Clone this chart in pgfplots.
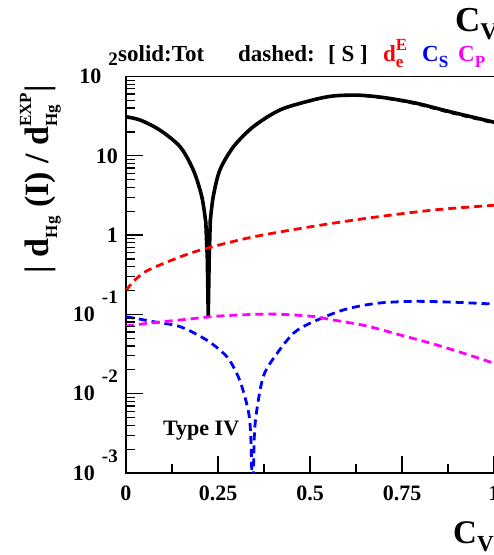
\documentclass[border=0pt]{standalone}
\usepackage{fontspec}
\setmainfont{Liberation Serif}
\usepackage{pgfplots}
\pgfplotsset{compat=1.18}
\definecolor{rred}{RGB}{255,0,0}
\definecolor{rblue}{RGB}{0,0,255}
\definecolor{rmag}{RGB}{255,0,255}
\newcommand\fs[1]{\fontsize{#1bp}{#1bp}\selectfont}
\newcommand\pw[1]{10\hspace{7bp}\smash{\raisebox{18bp}{\fs{19}#1}}}
\newcommand\mysub[2]{\raisebox{-#1bp}{\fs{17}#2}}
\newcommand\mysup[2]{\raisebox{#1bp}{\fs{17}#2}}
\begin{document}
\begin{tikzpicture}
\begin{axis}[
  name=ax,
  scale only axis,
  width=404.8bp, height=396.5bp,
  xmin=0, xmax=1.1,
  ymode=log, ymin=1e-3, ymax=100,
  xtick={0,0.25,0.5,0.75,1},
  xticklabels={0,0.25,0.5,0.75,1},
  minor xtick={0.125,0.375,0.625,0.875},
  ytick={1e-3,1e-2,1e-1,1,10,100},
  yticklabels={{\pw{-3}},{\pw{-2}},{\pw{-1}},{1\hspace{18bp}},{10\hspace{18bp}},{\pw{2}}},
  tick pos=left,
  tick align=inside,
  major tick length=17bp, minor tick length=9bp,
  major tick style={draw=black, line width=1.2bp},
  minor tick style={draw=black, line width=1.2bp},
  axis line style={line width=1.5bp},
  /pgf/number format/assume math mode=true,
  xticklabel style={font=\fs{22}\bfseries, anchor=north, inner sep=0pt, yshift=-13bp},
  yticklabel style={font=\fs{22}\bfseries, anchor=east, inner sep=0pt, xshift=-8bp},
]
% total (solid), left branch, dip, right branch
\addplot[black, line width=3.6bp, line cap=round, smooth, tension=0.5] coordinates {
(0,31) (0.038,28.3) (0.092,21.1) (0.147,13) (0.183,6.6) (0.206,3.05) (0.217,1.42)};
\addplot[black, line width=3.6bp, line cap=round, line join=round] coordinates {
(0.217,1.42) (0.221,0.5) (0.2235,0.095) (0.226,0.5) (0.229,1.5)};
\addplot[black, line width=3.6bp, line cap=round, smooth, tension=0.5] coordinates {
(0.229,1.5) (0.237,3.05) (0.255,6.6)
(0.292,13) (0.346,23.3) (0.418,37.8) (0.5,49.5) (0.563,56.8) (0.636,58)
(0.708,53.6) (0.79,45.9) (0.88,36) (1.0,26.5) (1.1,20)};
% [S] dashed black
\addplot[black, line width=2bp, dash pattern=on 6bp off 5bp, smooth] coordinates {
(0.65,56.5) (0.708,52.5) (0.79,44.5) (0.88,34.8) (1.0,25.6) (1.1,19.3)};
% d_e^E
\addplot[rred, line width=2.8bp, dash pattern=on 8bp off 5bp, smooth, tension=0.5] coordinates {
(0,0.20) (0.02,0.26) (0.05,0.34) (0.092,0.42) (0.165,0.57) (0.228,0.70)
(0.346,0.95) (0.5,1.27) (0.654,1.63) (0.835,2.07) (1.0,2.38) (1.1,2.6)};
% C_S
\addplot[rblue, line width=2.8bp, dash pattern=on 8bp off 5bp, smooth, tension=0.5] coordinates {
(0,0.0936) (0.074,0.081) (0.147,0.070) (0.219,0.0475) (0.274,0.0293)
(0.305,0.0164) (0.323,0.00916) (0.336,0.0047) (0.341,0.0015) (0.3435,0.0002)
(0.3445,0.0002) (0.347,0.0015) (0.352,0.0047) (0.373,0.0164) (0.41,0.032) (0.455,0.0578)
(0.5,0.0773) (0.59,0.1136) (0.681,0.138) (0.781,0.146) (0.88,0.143)
(1.0,0.135) (1.1,0.128)};
% C_P
\addplot[rmag, line width=2.8bp, dash pattern=on 8bp off 5bp, smooth, tension=0.5] coordinates {
(0,0.0715) (0.074,0.0786) (0.165,0.0867) (0.255,0.0955) (0.391,0.101)
(0.5,0.095) (0.563,0.085) (0.654,0.0715) (0.745,0.055) (0.835,0.0424)
(0.926,0.0314) (1.0,0.0242) (1.1,0.017)};
\end{axis}
\begin{scope}[shift={(ax.south west)}, x=1bp, y=1bp, every node/.style={inner sep=0pt, font=\bfseries}]
% axis tick marks, inside, on the left and bottom axes
\foreach \v in {0.25,0.5,0.75,1} \draw[black, line width=1.2bp] ({368*\v},0) -- ++(0,17);
\foreach \v in {0.125,0.375,0.625,0.875} \draw[black, line width=1.2bp] ({368*\v},0) -- ++(0,9);
\foreach \d in {1,2,3,4} \draw[black, line width=1.2bp] (0,{79.3*\d}) -- ++(17,0);
\foreach \d in {0,1,2,3,4} {\foreach \m in {2,3,4,5,6,7,8,9} {\draw[black, line width=1.2bp] (0,{79.3*(\d+log10(\m))}) -- ++(9,0);}}
\node[anchor=base west, font=\fs{23}\bfseries] at (-8,411) {solid:Tot};
\node[anchor=base west, font=\fs{23}\bfseries] at (112,411) {dashed:};
\node[anchor=base west, font=\fs{23}\bfseries] at (202,411) {[ S ]};
\node[anchor=base west, font=\fs{23}\bfseries, text=rred] at (257,411) {d\rlap{\mysup{11}{E}}\mysub{6}{e}};
\node[anchor=base west, font=\fs{23}\bfseries, text=rblue] at (296,411) {C\mysub{6}{S}};
\node[anchor=base west, font=\fs{23}\bfseries, text=rmag] at (332,411) {C\mysub{6}{P}};
\node[anchor=base west, font=\fs{35}\bfseries] at (329,441) {C\raisebox{-8bp}{\fs{24}V}};
\node[anchor=base west, font=\fs{33}\bfseries] at (327,-70) {C\raisebox{-8bp}{\fs{23}V}};
\node[anchor=base west, font=\fs{22}\bfseries] at (37,38) {Type IV};
\node[anchor=base east, rotate=90, font=\fs{34}\bfseries] at (-78,388)
  {| d\mysub{9}{Hg} (I) / d\rlap{\mysub{9}{Hg}}\mysup{17}{EXP}|};
\end{scope}
\pgfresetboundingbox
\path[use as bounding box] ([shift={(-126bp,-82bp)}]ax.south west) rectangle ([shift={(368bp,473bp)}]ax.south west);
\end{tikzpicture}
\end{document}
